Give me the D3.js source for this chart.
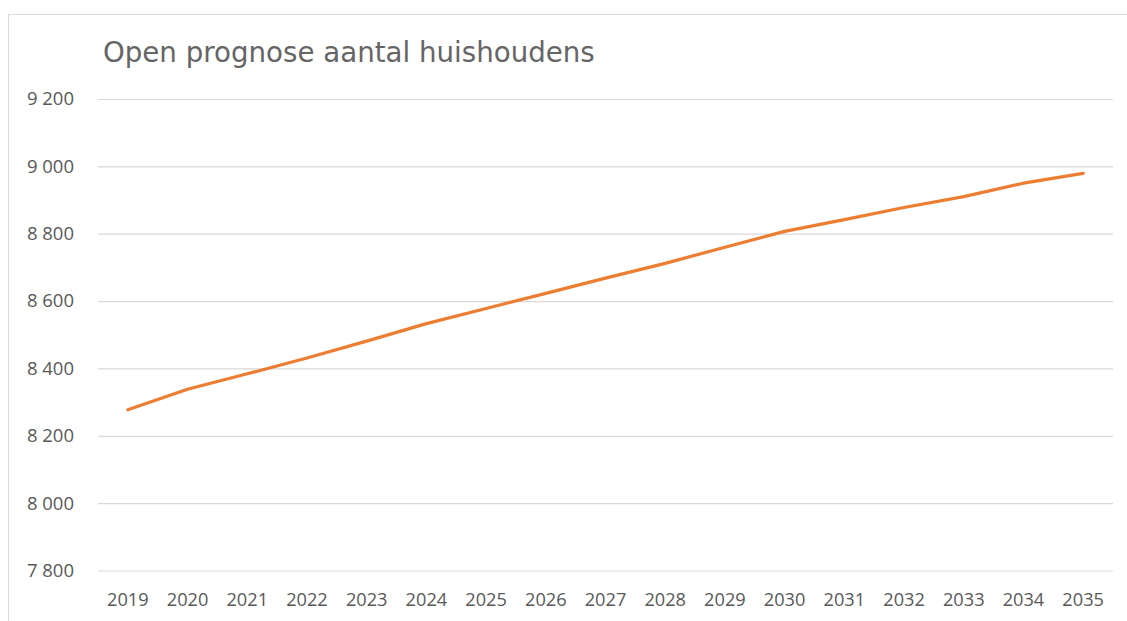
<!DOCTYPE html>
<html>
<head>
<meta charset="utf-8">
<script src="https://cdn.jsdelivr.net/npm/d3@7/dist/d3.min.js"></script>
<style>
  html, body { margin: 0; padding: 0; background: #fff; }
  svg { display: block; }
</style>
</head>
<body>
<svg id="chart" width="1127" height="621"></svg>
<script>
const title = "Open prognose aantal huishoudens";
const years = ["2019","2020","2021","2022","2023","2024","2025","2026","2027","2028","2029","2030","2031","2032","2033","2034","2035"];
const households = [8277, 8338, 8384, 8431, 8481, 8533, 8578, 8623, 8668, 8712, 8760, 8807, 8842, 8878, 8910, 8950, 8979];
const yTicks = [7800, 8000, 8200, 8400, 8600, 8800, 9000, 9200];

const svg = d3.select("#chart");
const W = 1127, H = 621;
const plot = { left: 98, right: 1113, top: 99, bottom: 570.5 };

// outer chart border
svg.append("rect")
  .attr("x", 8.5).attr("y", 14.5)
  .attr("width", W + 20).attr("height", H + 20)
  .attr("fill", "#fff").attr("stroke", "#d9d9d9").attr("stroke-width", 1);

const x = d3.scaleBand().domain(years).range([plot.left, plot.right]);
const y = d3.scaleLinear().domain([7800, 9200]).range([plot.bottom, plot.top]);

// gridlines
svg.append("g")
  .attr("transform", `translate(${plot.left},0)`)
  .call(d3.axisLeft(y).tickValues(yTicks).tickSize(-(plot.right - plot.left)).tickFormat(""))
  .call(g => g.select(".domain").remove())
  .call(g => g.selectAll(".tick line").attr("stroke", "#d9d9d9").attr("stroke-width", 1.2));

// y labels
svg.append("g")
  .attr("transform", `translate(74,0)`)
  .call(d3.axisLeft(y).tickValues(yTicks).tickSize(0).tickPadding(0).tickFormat(d => d3.format(",")(d).replace(",", " ")))
  .call(g => g.select(".domain").remove())
  .call(g => g.selectAll("text")
    .attr("fill", "#595959")
    .attr("font-family", "'Open Sans', sans-serif")
    .attr("font-size", 18.5)
    .attr("text-anchor", "end"));

// x labels
svg.append("g")
  .attr("transform", `translate(0,${plot.bottom})`)
  .call(d3.axisBottom(x).tickSize(0).tickPadding(23))
  .call(g => g.select(".domain").remove())
  .call(g => g.selectAll("text")
    .attr("fill", "#595959")
    .attr("font-family", "'Open Sans', sans-serif")
    .attr("font-size", 18.2));

// line
const line = d3.line()
  .x((d, i) => x(years[i]) + x.bandwidth() / 2)
  .y(d => y(d));

svg.append("path")
  .datum(households)
  .attr("d", line)
  .attr("fill", "none")
  .attr("stroke", "#ED7D31")
  .attr("stroke-width", 3.2)
  .attr("stroke-linecap", "round")
  .attr("stroke-linejoin", "round");

// title
const t = svg.append("text")
  .attr("x", 103).attr("y", 62)
  .attr("fill", "#656565")
  .attr("font-family", "'DejaVu Sans', Verdana, sans-serif")
  .attr("font-size", 25)
  .text(title);
const tw = t.node().getComputedTextLength();
t.attr("font-size", 25 * 492 / tw);
</script>
</body>
</html>
